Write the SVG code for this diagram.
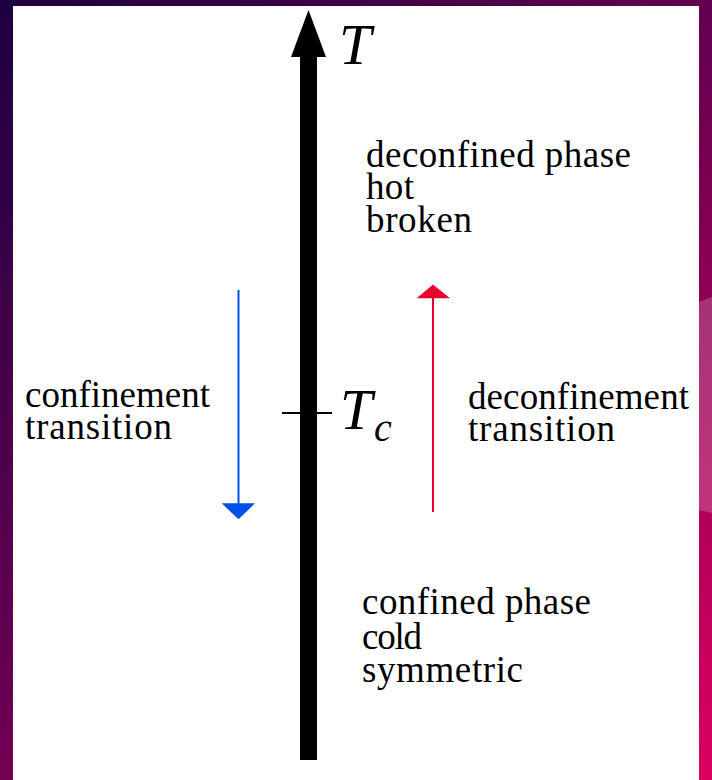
<svg xmlns="http://www.w3.org/2000/svg" width="712" height="780" viewBox="0 0 712 780">
  <defs>
    <linearGradient id="bg" x1="0" y1="0" x2="712" y2="780" gradientUnits="userSpaceOnUse">
      <stop offset="0" stop-color="#1c0040"/>
      <stop offset="0.5" stop-color="#6a0050"/>
      <stop offset="1" stop-color="#dc005e"/>
    </linearGradient>
    <style>
      text { font-family: 'Liberation Serif', 'Times New Roman', serif; fill: #000; }
      .lbl { font-size: 37px; }
      .math { font-style: italic; }
    </style>
  </defs>
  <rect x="0" y="0" width="712" height="780" fill="url(#bg)"/>
  <polygon points="699,302 712,297 712,513 699,510" fill="#ffffff" fill-opacity="0.2"/>
  <rect x="13" y="6" width="686" height="774" fill="#ffffff"/>

  <g id="axis">
    <rect x="300" y="55" width="17" height="705" fill="#000"/>
    <polygon points="308.5,10 291,57 326,57" fill="#000"/>
    <line x1="282" y1="413" x2="332" y2="413" stroke="#000" stroke-width="2.2"/>
    <text class="math" x="339" y="64" font-size="58">T</text>
    <text class="math" x="340" y="429" font-size="58">T</text>
    <text class="math" x="374" y="441" font-size="40">c</text>
  </g>

  <g id="connectors">
    <line x1="238.5" y1="290" x2="238.5" y2="506" stroke="#0050e6" stroke-width="2"/>
    <polygon points="221.7,503.3 255,503.3 238.5,519.3" fill="#0050e6"/>
    <line x1="433" y1="512" x2="433" y2="296" stroke="#e8002c" stroke-width="2"/>
    <polygon points="416.7,298.3 450,298.3 433,284.5" fill="#e8002c"/>
  </g>

  <g id="hot-phase">
    <text class="lbl" x="366" y="167" textLength="265" lengthAdjust="spacing">deconfined phase</text>
    <text class="lbl" x="366" y="199" textLength="48" lengthAdjust="spacing">hot</text>
    <text class="lbl" x="366" y="232" textLength="106" lengthAdjust="spacing">broken</text>
  </g>

  <g id="confinement-transition">
    <text class="lbl" x="25" y="407" textLength="185" lengthAdjust="spacing">confinement</text>
    <text class="lbl" x="25" y="439" textLength="147" lengthAdjust="spacing">transition</text>
  </g>

  <g id="deconfinement-transition">
    <text class="lbl" x="468" y="409" textLength="221" lengthAdjust="spacing">deconfinement</text>
    <text class="lbl" x="468" y="441" textLength="147" lengthAdjust="spacing">transition</text>
  </g>

  <g id="cold-phase">
    <text class="lbl" x="362" y="614" textLength="229" lengthAdjust="spacing">confined phase</text>
    <text class="lbl" x="362" y="649" textLength="60" lengthAdjust="spacing">cold</text>
    <text class="lbl" x="362" y="682" textLength="161" lengthAdjust="spacing">symmetric</text>
  </g>
</svg>
